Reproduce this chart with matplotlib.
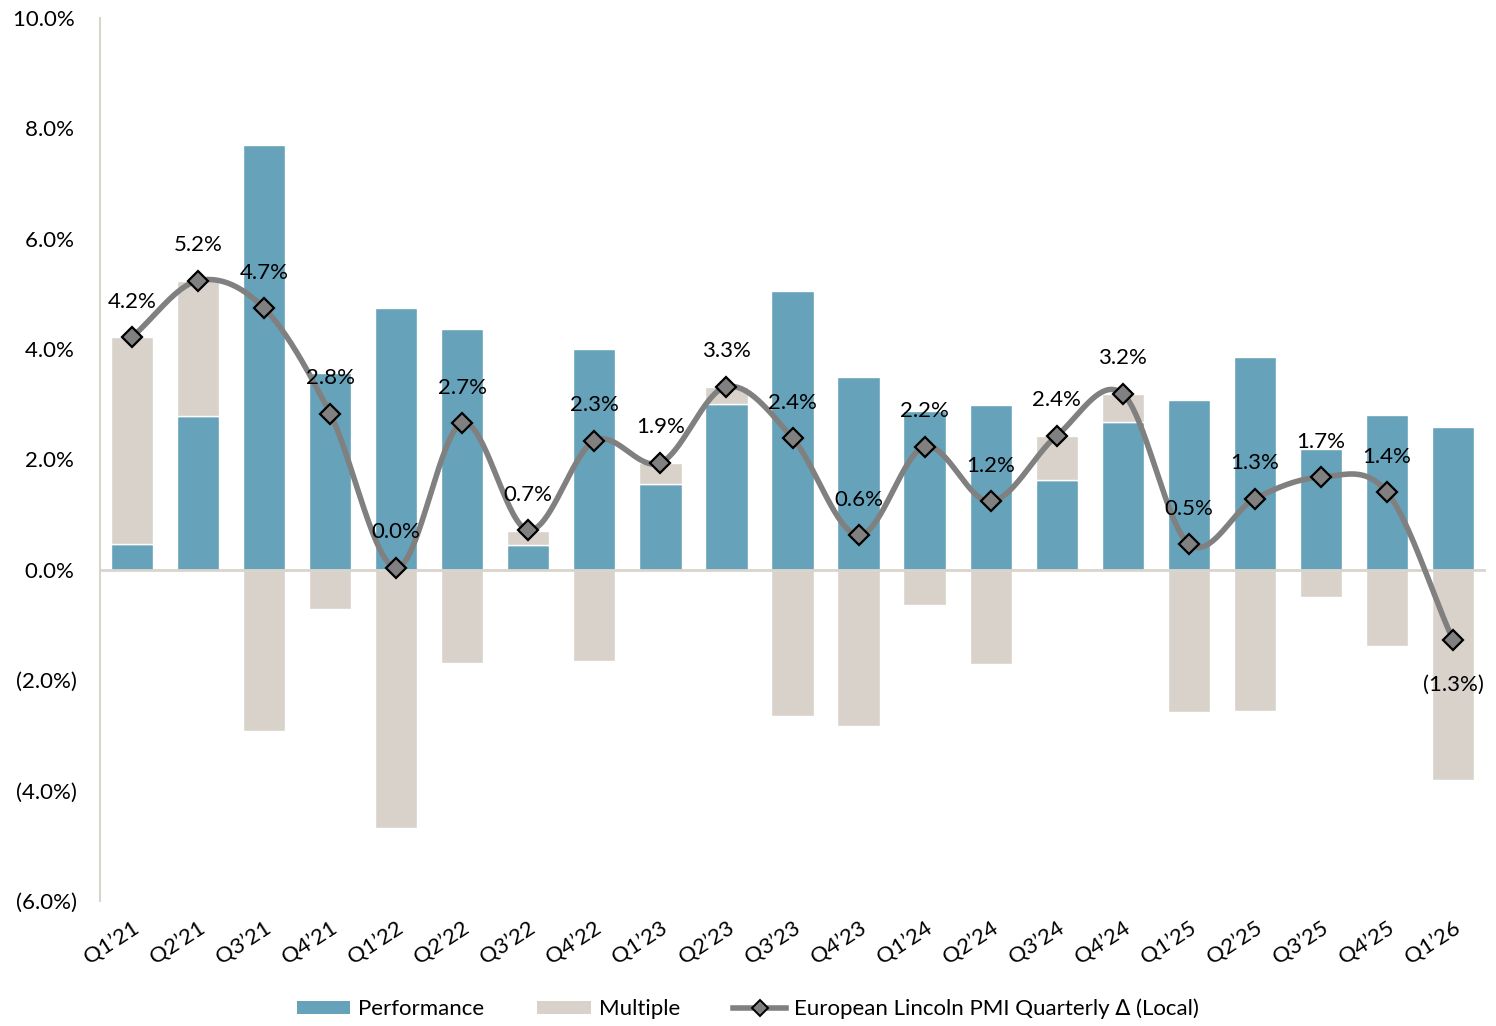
import numpy as np
import matplotlib
matplotlib.use("Agg")
import matplotlib.pyplot as plt
from matplotlib.lines import Line2D
from matplotlib.patches import Patch

plt.rcParams['font.family'] = ['Lato', 'DejaVu Sans']

quarters = ["Q1’21", "Q2’21", "Q3’21", "Q4’21", "Q1’22", "Q2’22", "Q3’22", "Q4’22",
            "Q1’23", "Q2’23", "Q3’23", "Q4’23", "Q1’24", "Q2’24", "Q3’24", "Q4’24",
            "Q1’25", "Q2’25", "Q3’25", "Q4’25", "Q1’26"]
performance = [0.47, 2.79, 7.70, 3.57, 4.75, 4.37, 0.45, 4.00, 1.56, 3.00, 5.05,
               3.50, 2.88, 2.99, 1.63, 2.68, 3.08, 3.86, 2.19, 2.81, 2.59]
multiple = [3.75, 2.45, -2.92, -0.71, -4.67, -1.68, 0.26, -1.65, 0.37, 0.32, -2.64,
            -2.83, -0.63, -1.70, 0.80, 0.50, -2.57, -2.55, -0.49, -1.38, -3.80]
pmi = [4.22, 5.24, 4.74, 2.83, 0.04, 2.66, 0.72, 2.34, 1.94, 3.32, 2.39, 0.63,
       2.23, 1.24, 2.43, 3.19, 0.47, 1.29, 1.68, 1.41, -1.27]
yticks = [-6, -4, -2, 0, 2, 4, 6, 8, 10]

BLUE = "#66a2b9"
BEIGE = "#d9d2cb"
GRAY = "#808080"
AXC = "#d9d4cc"

def fmt(v):
    return f"({abs(v):.1f}%)" if v < 0 else f"{v:.1f}%"

def smooth(xs, ys, n=40):
    xs = np.asarray(xs, float); ys = np.asarray(ys, float)
    N = len(xs)
    mx = np.zeros(N); my = np.zeros(N)
    for i in range(N):
        a = max(i - 1, 0); b = min(i + 1, N - 1)
        mx[i] = (xs[b] - xs[a]) / 2.0 if 0 < i < N - 1 else (xs[b] - xs[a])
        my[i] = (ys[b] - ys[a]) / 2.0 if 0 < i < N - 1 else (ys[b] - ys[a])
    ox, oy = [], []
    t = np.linspace(0, 1, n)
    for i in range(N - 1):
        p0 = np.array([xs[i], ys[i]]); p3 = np.array([xs[i+1], ys[i+1]])
        p1 = p0 + np.array([mx[i], my[i]]) / 3.0
        p2 = p3 - np.array([mx[i+1], my[i+1]]) / 3.0
        c = ((1-t)**3)[:, None]*p0 + (3*(1-t)**2*t)[:, None]*p1 + (3*(1-t)*t**2)[:, None]*p2 + (t**3)[:, None]*p3
        ox.extend(c[:, 0]); oy.extend(c[:, 1])
    return np.array(ox), np.array(oy)

fig = plt.figure(figsize=(14.96, 10.26), dpi=100)
ax = fig.add_axes([100/1496, 1 - 901/1026, 1386/1496, 883/1026])

x = np.arange(len(quarters))
perf = np.array(performance); mult = np.array(multiple)
w = 0.64
ax.bar(x, perf, w, color=BLUE, edgecolor="white", linewidth=1.0, zorder=2)
mult_bottom = np.where(mult >= 0, np.maximum(perf, 0), 0)
ax.bar(x, mult, w, bottom=mult_bottom, color=BEIGE, edgecolor="white", linewidth=1.0, zorder=2)

ax.axhline(0, color=AXC, lw=2, zorder=3)

sx, sy = smooth(x, pmi)
ax.plot(sx, sy, color=GRAY, lw=4, zorder=4, solid_capstyle='round')
ax.plot(x, pmi, ls='none', marker='D', ms=10, mfc=GRAY, mec='black', mew=1.6, zorder=5)

for xi, v in zip(x, pmi):
    if v < 0:
        ax.annotate(fmt(v), (xi, v), xytext=(0, -32), textcoords='offset points',
                    ha='center', va='center', fontsize=16, zorder=6)
    else:
        ax.annotate(fmt(v), (xi, v), xytext=(0, 25.5), textcoords='offset points',
                    ha='center', va='center', fontsize=16, zorder=6)

ax.set_xlim(-0.485, len(quarters) - 0.5)
ax.set_ylim(-6, 10)
ax.set_yticks(yticks)
ax.set_yticklabels([fmt(v) if v < 0 else fmt(v) + "\u2009" for v in yticks], fontsize=16)
ax.tick_params(axis='y', length=0, pad=16.5)
ax.set_xticks(x)
ax.set_xticklabels(quarters, fontsize=16, rotation=33, ha='right', rotation_mode='anchor')
ax.tick_params(axis='x', length=0, pad=12)

for s in ['top', 'right', 'bottom']:
    ax.spines[s].set_visible(False)
ax.spines['left'].set_color(AXC)
ax.spines['left'].set_linewidth(1.5)

handles = [Patch(facecolor=BLUE, edgecolor='none'),
           Patch(facecolor=BEIGE, edgecolor='none'),
           Line2D([0], [0], color=GRAY, lw=4, marker='D', ms=8, mfc=GRAY, mec='black', mew=1.4)]
labels = ["Performance", "Multiple", "European Lincoln PMI Quarterly \u2206 (Local)"]
fig.legend(handles, labels, loc='lower center', bbox_to_anchor=(0.5, -0.013), ncol=3,
           frameon=False, fontsize=16, handlelength=2.4, handleheight=0.55,
           columnspacing=2.4, handletextpad=0.35)

fig.savefig("out.png", dpi=100)
